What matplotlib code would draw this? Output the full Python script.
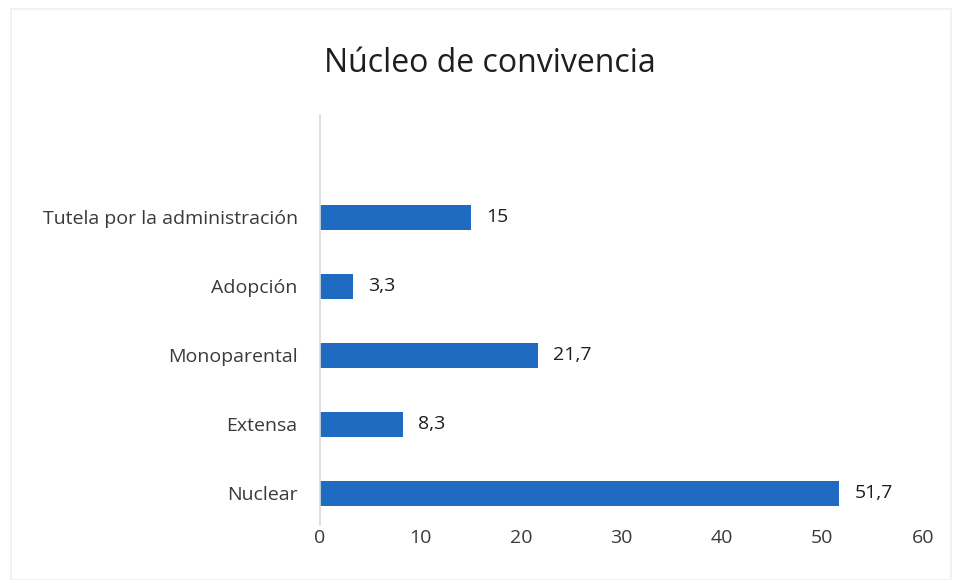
import matplotlib.pyplot as plt
from matplotlib.patches import Rectangle

categorias = ["Nuclear", "Extensa", "Monoparental", "Adopción", "Tutela por la administración"]
valores = [51.7, 8.3, 21.7, 3.3, 15]
etiquetas = ["51,7", "8,3", "21,7", "3,3", "15"]
ticks_x = [0, 10, 20, 30, 40, 50, 60]

plt.rcParams['font.family'] = ['Open Sans', 'DejaVu Sans']
gris = '#3a3a3a'

fig = plt.figure(figsize=(9.54, 5.8), dpi=100)
ax = fig.add_axes([0.3354, 0.0948, 0.632, 0.707])

# marco tenue del gráfico (escaneado)
fig.patches.append(Rectangle((0.012, 0.0), 0.985, 0.985, transform=fig.transFigure,
                             fill=False, edgecolor='#f0f0f0', linewidth=1.2))

y = range(len(categorias))
ax.barh(y, valores, height=0.36, color='#1F6BC2')
for i, v in enumerate(valores):
    ax.text(v + 1.5, i, etiquetas[i], va='center', ha='left', fontsize=14, color='#1e1e1e')

ax.set_xlim(0, 60)
ax.set_ylim(-0.46, 5.48)
ax.set_xticks(ticks_x)
ax.set_yticks(list(y))
ax.set_yticklabels(categorias)
ax.tick_params(axis='both', length=0, labelsize=14, colors=gris)
ax.tick_params(axis='y', pad=16)
ax.tick_params(axis='x', pad=3)

for s in ['top', 'right', 'bottom']:
    ax.spines[s].set_visible(False)
ax.spines['left'].set_color('#d9d9d9')
ax.spines['left'].set_linewidth(1.2)

fig.text(0.514, 0.891, "Núcleo de convivencia", ha='center', va='center', fontsize=23, color='#1e1e1e')

fig.savefig("out.png", dpi=100, facecolor='white')
